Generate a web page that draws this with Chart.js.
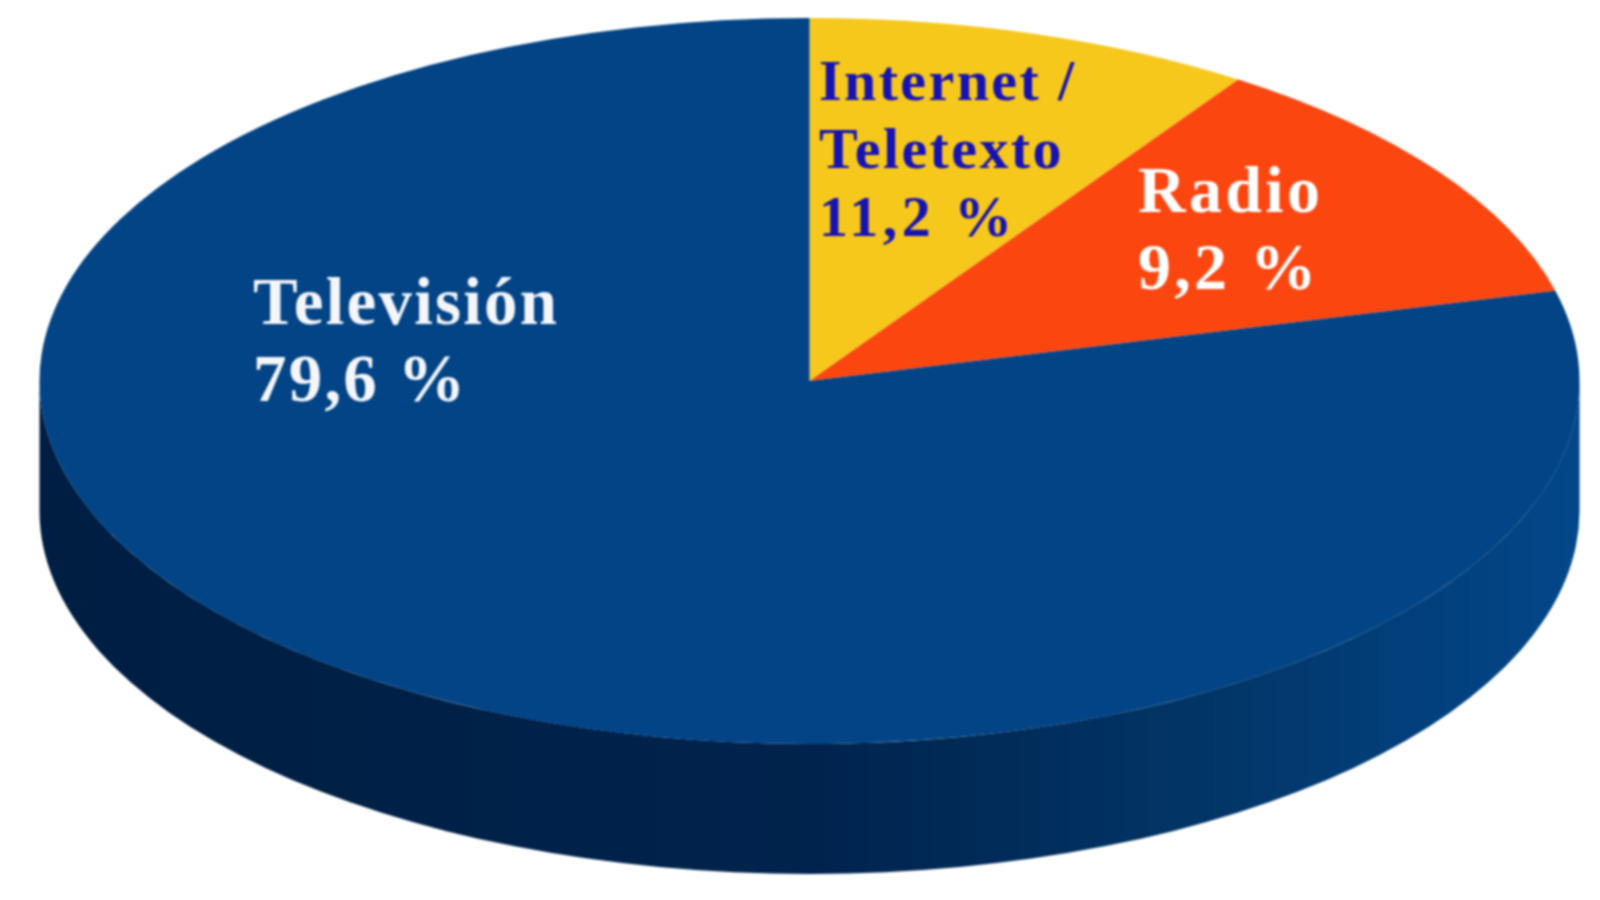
<!DOCTYPE html>
<html lang="es">
  <head>
    <meta charset="UTF-8" />
    <title>Televisión, Internet / Teletexto, Radio</title>
    <style>
      body {
        margin: 0;
        background: #fff;
      }
      /* the reference is a soft, enlarged bitmap */
      canvas {
        display: block;
        filter: blur(0.8px);
      }
    </style>
    <script src="https://cdn.jsdelivr.net/npm/chart.js"></script>
  </head>
  <body>
    <canvas id="pie" width="1600" height="900"></canvas>
    <script>
      const categories = ['Internet / Teletexto', 'Radio', 'Televisión'];
      // The percentages printed on the chart
      const printedValues = ['11,2 %', '9,2 %', '79,6 %'];
      // Slice sizes: in the original the wedges do
      // not follow the printed figures (yellow is the narrower of the two)
      const sliceShares = [9.4, 11.6, 79.0];
      const sliceColors = ['#f6c81c', '#fb4610', '#024486'];

      // Flatten the round pie into an ellipse, with a side wall under it
      const ellipse = { cx: 809.5, cy: 381, rx: 770, ry: 363, depth: 130 };

      const tiltPlugin = {
        id: 'tilt',
        beforeDatasetsDraw(chart) {
          const ctx = chart.ctx;
          const arc = chart.getDatasetMeta(0).data[0];
          const { cx, cy, rx, ry, depth } = ellipse;

          const wall = ctx.createLinearGradient(cx - rx, 0, cx + rx, 0);
          wall.addColorStop(0, '#001e42');
          wall.addColorStop(0.5, '#00234d');
          wall.addColorStop(0.75, '#023566');
          wall.addColorStop(1, '#03478a');
          ctx.fillStyle = wall;
          ctx.beginPath();
          ctx.ellipse(cx, cy, rx, ry, 0, 0, Math.PI);
          ctx.ellipse(cx, cy + depth, rx, ry, 0, Math.PI, 0, true);
          ctx.closePath();
          ctx.fill();

          ctx.save();
          ctx.translate(cx, cy);
          ctx.scale(rx / arc.outerRadius, ry / arc.outerRadius);
          ctx.translate(-arc.x, -arc.y);
        },
        afterDatasetsDraw(chart) {
          chart.ctx.restore();
        },
      };

      const labelPlugin = {
        id: 'sliceLabels',
        afterDraw(chart) {
          const ctx = chart.ctx;
          ctx.save();
          ctx.textBaseline = 'alphabetic';

          function write(lines, x, ys, size, color, spacing) {
            ctx.font = 'bold ' + size + 'px "Liberation Serif"';
            ctx.letterSpacing = spacing + 'px';
            ctx.fillStyle = color;
            lines.forEach((line, i) => ctx.fillText(line, x, ys[i]));
          }

          const [internet, teletexto] = categories[0].split(' / ');
          write([internet + ' /', teletexto], 819, [100, 168], 58, '#1612b4', 2.4);
          write([printedValues[0]], 819, [236], 58, '#1612b4', 4.5);
          write([categories[1], printedValues[1]], 1138, [212, 289], 66, '#fff', 3.3);
          write([categories[2], printedValues[2]], 253, [324, 401], 67, '#f4f6fa', 2.2);
          ctx.restore();
        },
      };

      new Chart(document.getElementById('pie'), {
        type: 'pie',
        data: {
          labels: categories,
          datasets: [
            {
              data: sliceShares,
              backgroundColor: sliceColors,
              borderWidth: 0,
              clip: false,
            },
          ],
        },
        options: {
          responsive: false,
          animation: false,
          plugins: {
            legend: { display: false },
            tooltip: { enabled: false },
          },
        },
        plugins: [tiltPlugin, labelPlugin],
      });
    </script>
  </body>
</html>
